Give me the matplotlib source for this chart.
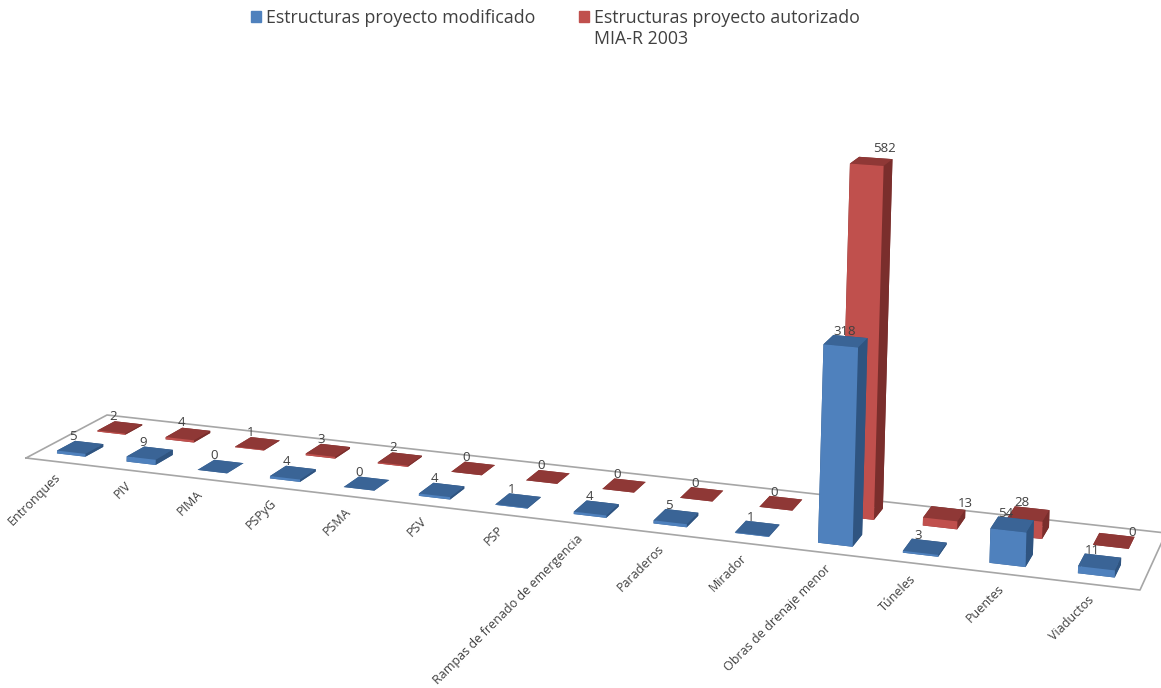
import numpy as np
import matplotlib
matplotlib.use('Agg')
import matplotlib.pyplot as plt
from matplotlib.patches import Patch

W, H = 1161, 688

categories = ['Entronques', 'PIV', 'PIMA', 'PSPyG', 'PSMA', 'PSV', 'PSP',
              'Rampas de frenado de emergencia', 'Paraderos', 'Mirador',
              'Obras de drenaje menor', 'Túneles', 'Puentes', 'Viaductos']
modificado = [5, 9, 0, 4, 0, 4, 1, 4, 5, 1, 318, 3, 54, 11]
autorizado = [2, 4, 1, 3, 2, 0, 0, 0, 0, 0, 582, 13, 28, 0]

legend_labels = ['Estructuras proyecto modificado', ' ',
                 'Estructuras proyecto autorizado', 'MIA-R 2003']

# face colours in bar3d order: bottom, top, front, back, left, right
blue_faces = ['#3A6496', '#3A6496', '#4F81BD', '#2F5480', '#2F5480', '#2F5480']
red_faces = ['#8F3836', '#8F3836', '#C0504D', '#7A2E2C', '#7A2E2C', '#7A2E2C']

plt.rcParams['font.family'] = ['Open Sans', 'DejaVu Sans']
TXT = '#404040'

# floor corners on the picture (pixels): world (0,0) (14,0) (14,1) (0,1)
world = [(0, 0), (14, 0), (14, 1), (0, 1)]
floor_px = [(26, 458), (1140, 590), (1166, 533), (107, 415)]


def fit_floor(src, dst):
    A, b = [], []
    for (x, y), (u, v) in zip(src, dst):
        A.append([x, y, 1, 0, 0, 0, -u * x, -u * y])
        A.append([0, 0, 0, x, y, 1, -v * x, -v * y])
        b += [u, v]
    return np.append(np.linalg.solve(np.array(A, float), np.array(b, float)), 1).reshape(3, 3)


Hf = fit_floor(world, floor_px)
w_ref = Hf[2] @ [10.45, 0.29, 1]
# value axis: pixels per unit at the big bars
P = np.array([
    [Hf[0, 0], Hf[0, 1], 0.017 * w_ref, Hf[0, 2]],
    [Hf[1, 0], Hf[1, 1], -0.62 * w_ref, Hf[1, 2]],
    [Hf[2, 0], Hf[2, 1], 0, Hf[2, 2]],
])


def project(x, y, z):
    q = P @ [x, y, z, 1]
    return q[0] / q[2], q[1] / q[2]


fig = plt.figure(figsize=(W / 100, H / 100), dpi=100)
ax = fig.add_axes([0, 0, 1, 1], projection='3d')
ax.set_axis_off()
ax.computed_zorder = False
ax.apply_aspect = lambda position=None: None


def get_proj():
    flip = np.array([[1, 0, 0], [0, -1, H], [0, 0, 1]], float)
    Q = ax.transData.inverted().get_matrix() @ flip @ P
    # depth row only decides the painting order inside a bar, kept negative
    # because Line3D drops points with depth above zero
    depth = [-0.001, 1, -0.0001, -2]
    return np.array([Q[0], Q[1], depth, Q[2]])


ax.get_proj = get_proj

# floor outline
ax.plot([0, 14, 14, 0, 0], [0, 0, 1, 1, 0], [0, 0, 0, 0, 0],
        color='#A6A6A6', lw=1.2, zorder=1, clip_on=False)

bar_w, bar_d = 0.41, 0.22
blue_y, red_y = 0.26 - bar_d / 2, 0.76 - bar_d / 2
pos = np.arange(len(categories)) + 0.47 - bar_w / 2

for i in range(len(categories)):
    ax.bar3d(pos[i], red_y, 0, bar_w, bar_d, autorizado[i], color=red_faces,
             shade=False, linewidth=0.3, zorder=2, clip_on=False)
for i in range(len(categories)):
    ax.bar3d(pos[i], blue_y, 0, bar_w, bar_d, modificado[i], color=blue_faces,
             shade=False, linewidth=0.3, zorder=3, clip_on=False)

# pixel offsets of the value labels from the centre of the bar top
blue_off = [(-7, -11)] * 14
red_off = [(-7, -11)] * 14
blue_off[10] = (-1, -10)
red_off[10] = (13, -13)
red_off[11] = (21, -10)
red_off[13] = (18, -8)


def put(xp, yp, s, **kw):
    fig.text(xp / W, 1 - yp / H, s, color=TXT, zorder=10, **kw)


for i in range(len(categories)):
    xp, yp = project(pos[i] + bar_w / 2, blue_y + bar_d / 2, modificado[i])
    put(xp + blue_off[i][0], yp + blue_off[i][1], str(modificado[i]),
        fontsize=9.5, ha='center', va='center')
    xp, yp = project(pos[i] + bar_w / 2, red_y + bar_d / 2, autorizado[i])
    put(xp + red_off[i][0], yp + red_off[i][1], str(autorizado[i]),
        fontsize=9.5, ha='center', va='center')

    xp, yp = project(i + 0.45, 0, 0)
    put(xp - 3, yp + 9, categories[i], fontsize=9, rotation=45, rotation_mode='anchor',
        ha='right', va='top')

handles = [Patch(color='#4F81BD'), Patch(visible=False),
           Patch(color='#C0504D'), Patch(visible=False)]
fig.legend(handles, legend_labels, ncols=2, frameon=False, fontsize=12.8,
           labelcolor=TXT, loc='upper left', bbox_to_anchor=(0.202, 1.01),
           handlelength=0.6, handleheight=0.6, handletextpad=0.25,
           columnspacing=2.45, alignment='left', labelspacing=0.15)

fig.savefig('out.png', dpi=100)
